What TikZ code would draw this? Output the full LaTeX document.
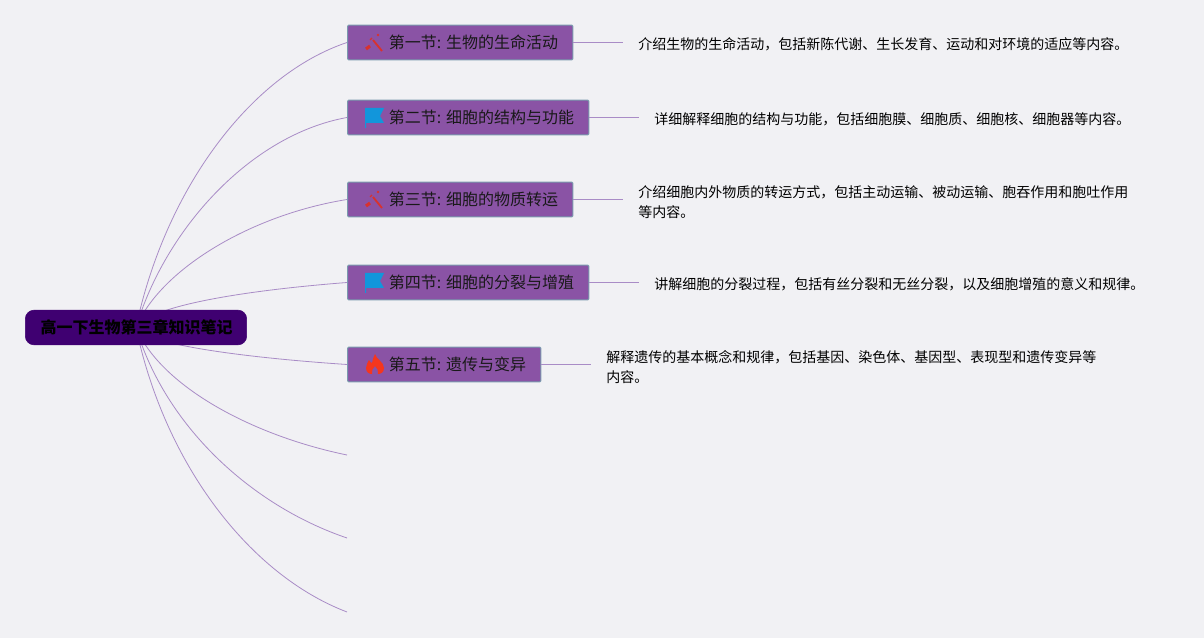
\documentclass[tikz,border=0pt]{standalone}
\usepackage{fontspec}
\setmainfont{Noto Sans CJK SC}
\usetikzlibrary{positioning,backgrounds}

\definecolor{pagebg}{HTML}{F1F1F4}
\definecolor{secfill}{HTML}{8A53A5}
\definecolor{secline}{HTML}{7A9AAE}
\definecolor{rootfill}{HTML}{3F0071}
\definecolor{linkcol}{HTML}{A98CC6}
\definecolor{wandred}{HTML}{D8322E}
\definecolor{flagblue}{HTML}{1296DB}
\definecolor{flamered}{HTML}{F5361E}

\newcommand{\seclabel}[1]{\hspace*{31pt}\raisebox{-1.3pt}{#1}\hspace*{11pt}}

\tikzset{
  rootbox/.style={rectangle, rounded corners=6.5pt, draw=rootfill, fill=rootfill, minimum height=26pt, minimum width=166pt, inner sep=0pt, font=\fontsize{12}{14}\selectfont\bfseries, text=black},
  secbox/.style={rectangle, rounded corners=0.8pt, draw=secline, line width=0.8pt, fill=secfill, minimum height=26pt, inner sep=0pt, anchor=west, font=\fontsize{12}{14}\selectfont, text=black!90},
  notetext/.style={rectangle, anchor=west, inner xsep=11.25pt, inner ysep=0pt, align=left, font=\fontsize{10.5}{15.5}\selectfont, text=black},
  link/.style={draw=linkcol, line width=0.6pt},
  wandicon/.pic={
    \draw[wandred, line width=1.4pt] (-1,-3) -- (8,8);
    \draw[wandred, line width=2.4pt] (-8,6) -- (-4,3);
    \draw[wandred, line width=1pt] (-4,-3) -- (-2,-5);
    \fill[wandred] (4,-8) circle (1.1pt);
  },
  flagicon/.pic={
    \fill[flagblue] (-9,-8) -- (10,-8) -- (6,0) -- (10,7) -- (-8,7) -- (-8,12) -- (-9,12) -- cycle;
  },
  flameicon/.pic={
    \fill[flamered] (0,-11) .. controls (1,-6) and (9,-3) .. (9,3) .. controls (9,8) and (5,9) .. (3,9)
      .. controls (4,6) and (2,3) .. (0,1) .. controls (-2,3) and (-4,6) .. (-3,9)
      .. controls (-5,9) and (-9,8) .. (-9,3) .. controls (-9,0) and (-7,-3) .. (-6,-5)
      .. controls (-5,-3) and (-4,-2) .. (-3,-2) .. controls (-2,-5) and (-2,-8) .. (0,-11) -- cycle;
  }
}

\begin{document}
\begin{tikzpicture}[x=0.75pt, y=-0.75pt]
      \useasboundingbox (0, 0) rectangle (1204, 638);

      \node [rootbox] (root) at (136, 327.5) {\hspace*{0.75pt}\raisebox{-1.6pt}{高一下生物第三章知识笔记}};

      \node [secbox, minimum width=169pt] (sec1) at (347, 42.5) {\seclabel{第一节: 生物的生命活动}};
      \node [secbox, minimum width=181pt] (sec2) at (347, 117.5) {\seclabel{第二节: 细胞的结构与功能}};
      \node [secbox, minimum width=169pt] (sec3) at (347, 199.5) {\seclabel{第三节: 细胞的物质转运}};
      \node [secbox, minimum width=181pt] (sec4) at (347, 282.5) {\seclabel{第四节: 细胞的分裂与增殖}};
      \node [secbox, minimum width=145pt] (sec5) at (347, 364.5) {\seclabel{第五节: 遗传与变异}};

      \pic at (374, 43) {wandicon};
      \pic at (374, 116) {flagicon};
      \pic at (374, 200) {wandicon};
      \pic at (374, 281) {flagicon};
      \pic at (375, 365) {flameicon};

      \node [notetext] (note1) at (623, 44.5) {介绍生物的生命活动，包括新陈代谢、生长发育、运动和对环境的适应等内容。};
      \node [notetext] (note2) at (639, 119) {详细解释细胞的结构与功能，包括细胞膜、细胞质、细胞核、细胞器等内容。};
      \node [notetext] (note3) at (623, 202) {介绍细胞内外物质的转运方式，包括主动运输、被动运输、胞吞作用和胞吐作用\\等内容。};
      \node [notetext] (note4) at (639, 284.5) {讲解细胞的分裂过程，包括有丝分裂和无丝分裂，以及细胞增殖的意义和规律。};
      \node [notetext] (note5) at (591, 367) {解释遗传的基本概念和规律，包括基因、染色体、基因型、表现型和遗传变异等\\内容。};

      \coordinate (end6) at (347, 455);
      \coordinate (end7) at (347, 538);
      \coordinate (end8) at (347, 612);

      \draw[link] (sec1) -- (sec1 -| note1.west);
      \draw[link] (sec2) -- (sec2 -| note2.west);
      \draw[link] (sec3) -- (sec3 -| note3.west);
      \draw[link] (sec4) -- (sec4 -| note4.west);
      \draw[link] (sec5) -- (sec5 -| note5.west);

      \begin{scope}[on background layer]
        \fill[pagebg] (0, 0) rectangle (1204, 638);
        \draw[link] (root.center) .. controls (165, 190) and (250, 75) .. (sec1.west);
        \draw[link] (root.center) .. controls (165, 230) and (250, 135) .. (sec2.west);
        \draw[link] (root.center) .. controls (160, 270) and (250, 215) .. (sec3.west);
        \draw[link] (root.center) .. controls (150, 305) and (250, 290) .. (sec4.west);
        \draw[link] (root.center) .. controls (145, 345) and (250, 358) .. (sec5.west);
        \draw[link] (root.center) .. controls (160, 385) and (250, 435) .. (end6);
        \draw[link] (root.center) .. controls (165, 425) and (250, 505) .. (end7);
        \draw[link] (root.center) .. controls (165, 465) and (250, 575) .. (end8);
      \end{scope}
\end{tikzpicture}
\end{document}
